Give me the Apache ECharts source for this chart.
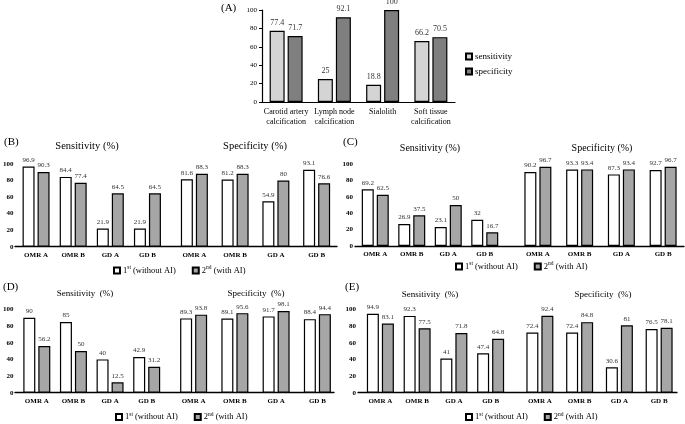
<!DOCTYPE html>
<html>
<head>
<meta charset="utf-8">
<script src="https://cdn.jsdelivr.net/npm/echarts@6/dist/echarts.min.js"></script>
<style>html,body{margin:0;padding:0;background:#fff}#c{width:685px;height:424px}</style>
</head>
<body>
<div id="c"></div>
<script>
// ---------- DATA ----------
const catsA = ['Carotid artery\ncalcification', 'Lymph node\ncalcification', 'Sialolith', 'Soft tissue\ncalcification'];
const sensA = [77.4, 25, 18.8, 66.2];
const specA = [71.7, 92.1, 100, 70.5];

const readers = ['OMR A', 'OMR B', 'GD A', 'GD B'];
const seriesNames = ['1st (without AI)', '2nd (with AI)'];
const yTicks = [0, 20, 40, 60, 80, 100];

const sens1B = [96.9, 84.4, 21.9, 21.9];
const sens2B = [90.3, 77.4, 64.5, 64.5];
const spec1B = [81.6, 81.2, 54.9, 93.1];
const spec2B = [88.3, 88.3, 80, 76.6];

const sens1C = [69.2, 26.9, 23.1, 32];
const sens2C = [62.5, 37.5, 50, 16.7];
const spec1C = [90.2, 93.3, 87.3, 92.7];
const spec2C = [96.7, 93.4, 93.4, 96.7];

const sens1D = [90, 85, 40, 42.9];
const sens2D = [56.2, 50, 12.5, 31.2];
const spec1D = [89.3, 89.1, 91.7, 88.4];
const spec2D = [93.8, 95.6, 98.1, 94.4];

const sens1E = [94.9, 92.3, 41, 47.4];
const sens2E = [83.1, 77.5, 71.8, 64.8];
const spec1E = [72.4, 72.4, 30.6, 76.5];
const spec2E = [92.4, 84.8, 81, 78.1];

// ---------- STYLE / LAYOUT ----------
const SERIF = "'Liberation Serif', 'Times New Roman', serif";
const option = { animation: false, grid: [], xAxis: [], yAxis: [], series: [], title: [], legend: [] };

function addGrid(l, t, w, h) {
  option.grid.push({ left: l, top: t, width: w, height: h });
  return option.grid.length - 1;
}

// Panel A
(function () {
  const g = addGrid(262, 10, 193, 92);
  option.xAxis.push({
    gridIndex: g, type: 'category', data: catsA,
    axisLine: { lineStyle: { color: '#000', width: 1.2 } },
    axisTick: { show: false },
    axisLabel: { interval: 0, fontSize: 8, lineHeight: 10, margin: 5, color: '#000', fontFamily: SERIF }
  });
  option.yAxis.push({
    gridIndex: g, type: 'value', min: 0, max: 100, interval: 20,
    axisLine: { show: true, lineStyle: { color: '#000', width: 1.2 } },
    axisTick: { show: true, length: 3, lineStyle: { color: '#000' } },
    splitLine: { show: false },
    axisLabel: { fontSize: 7, margin: 5, color: '#000', fontFamily: SERIF }
  });
  const xi = option.xAxis.length - 1, yi = option.yAxis.length - 1;
  const lbl = { show: true, position: 'top', distance: 4, fontSize: 8, color: '#333', fontFamily: SERIF };
  option.series.push({
    name: 'sensitivity', type: 'bar', xAxisIndex: xi, yAxisIndex: yi, data: sensA,
    barWidth: 15, barGap: '20%',
    itemStyle: { color: '#d4d4d4', borderColor: '#000', borderWidth: 1.2 }, label: lbl
  });
  option.series.push({
    name: 'specificity', type: 'bar', xAxisIndex: xi, yAxisIndex: yi, data: specA,
    barWidth: 15, barGap: '20%',
    itemStyle: { color: '#7f7f7f', borderColor: '#000', borderWidth: 1.2 }, label: lbl
  });
  option.title.push({ text: '(A)', left: 221, top: 3, padding: 0, textStyle: { fontSize: 11, fontWeight: 'normal', color: '#000', fontFamily: SERIF } });
  option.legend.push({
    data: ['sensitivity', 'specificity'], orient: 'vertical', left: 465, top: 52, padding: 0,
    itemWidth: 6, itemHeight: 6, itemGap: 6, icon: 'rect',
    textStyle: { fontSize: 9, color: '#000', fontFamily: SERIF, padding: [0, 0, 0, -2] }
  });
})();

function panel(p) {
  // frame axis line
  const gf = addGrid(p.frame[0], p.top, p.frame[1], p.h);
  option.xAxis.push({
    gridIndex: gf, type: 'category', data: [''],
    axisLine: { lineStyle: { color: '#000', width: 1.3 } },
    axisTick: { show: false }, axisLabel: { show: false }
  });
  option.yAxis.push({ gridIndex: gf, type: 'value', min: 0, max: 100, show: false });

  const groups = [
    { box: p.left, d1: p.s1, d2: p.s2, showY: true },
    { box: p.right, d1: p.p1, d2: p.p2, showY: false }
  ];
  groups.forEach(gr => {
    const g = addGrid(gr.box[0], p.top, gr.box[1], p.h);
    option.xAxis.push({
      gridIndex: g, type: 'category', data: readers,
      axisLine: { show: false }, axisTick: { show: false },
      axisLabel: { interval: 0, fontSize: 7, fontWeight: 'bold', margin: 5, color: '#000', fontFamily: SERIF }
    });
    option.yAxis.push({
      gridIndex: g, type: 'value', min: yTicks[0], max: yTicks[yTicks.length - 1], interval: 20,
      show: gr.showY,
      axisLine: { show: false }, axisTick: { show: false }, splitLine: { show: false },
      axisLabel: { fontSize: 7, fontWeight: 'bold', margin: p.ym, color: '#000', fontFamily: SERIF }
    });
    const xi = option.xAxis.length - 1, yi = option.yAxis.length - 1;
    const lbl = { show: true, position: 'top', distance: 3, fontSize: 7, color: '#333', fontFamily: SERIF };
    option.series.push({
      name: seriesNames[0], type: 'bar', xAxisIndex: xi, yAxisIndex: yi, data: gr.d1,
      barWidth: 12, barGap: '25%',
      itemStyle: { color: '#ffffff', borderColor: '#000', borderWidth: 1.2 }, label: lbl
    });
    option.series.push({
      name: seriesNames[1], type: 'bar', xAxisIndex: xi, yAxisIndex: yi, data: gr.d2,
      barWidth: 12, barGap: '25%',
      itemStyle: { color: '#a6a6a6', borderColor: '#000', borderWidth: 1.2 }, label: lbl
    });
  });

  const ts = { fontSize: p.tfs, fontWeight: 'normal', color: '#000', fontFamily: SERIF };
  option.title.push({ text: p.tag, left: p.tagPos[0], top: p.tagPos[1], padding: 0, textStyle: { fontSize: 11, fontWeight: 'normal', color: '#000', fontFamily: SERIF } });
  option.title.push({ text: p.sensT, left: p.tS[0], top: p.tS[1], padding: 0, textAlign: 'center', textStyle: ts });
  option.title.push({ text: p.specT, left: p.tP[0], top: p.tP[1], padding: 0, textAlign: 'center', textStyle: ts });

  option.legend.push({
    data: seriesNames, left: p.leg[0], top: p.leg[1], padding: 0, itemWidth: 6, itemHeight: 6, itemGap: 16, icon: 'rect',
    formatter: function (name) {
      const m = name.match(/^(\d+)(st|nd|rd|th)(.*)$/);
      return m ? '{n|' + m[1] + '}{s|' + m[2] + '}{n|' + m[3] + '}' : name;
    },
    textStyle: {
      fontSize: 8.5, color: '#000', fontFamily: SERIF, padding: [0, 0, 0, -2],
      rich: {
        n: { fontSize: 8.5, fontFamily: SERIF, color: '#000', lineHeight: 11 },
        s: { fontSize: 5.5, fontFamily: SERIF, color: '#000', verticalAlign: 'top', lineHeight: 11, padding: [0, 0, 4, 0] }
      }
    }
  });
}

panel({
  tag: '(B)', tagPos: [4, 137], sensT: 'Sensitivity (%)', specT: 'Specificity (%)', tfs: 10.5,
  tS: [87, 141], tP: [255, 141],
  top: 164, h: 82.7, frame: [15, 322], left: [16, 150], right: [174, 163], ym: 4,
  s1: sens1B, s2: sens2B, p1: spec1B, p2: spec2B, leg: [113, 265]
});
panel({
  tag: '(C)', tagPos: [343, 137], sensT: 'Sensitivity (%)', specT: 'Specificity (%)', tfs: 10,
  tS: [430, 143], tP: [602, 143],
  top: 164, h: 82, frame: [355, 329], left: [357, 146], right: [517, 167], ym: 4,
  s1: sens1C, s2: sens2C, p1: spec1C, p2: spec2C, leg: [455, 261]
});
panel({
  tag: '(D)', tagPos: [3, 282], sensT: 'Sensitivity  (%)', specT: 'Specificity  (%)', tfs: 9,
  tS: [85, 289], tP: [256, 289],
  top: 309.5, h: 83.2, frame: [15, 319], left: [17, 148], right: [173, 165], ym: 5,
  s1: sens1D, s2: sens2D, p1: spec1D, p2: spec2D, leg: [115, 411.5]
});
panel({
  tag: '(E)', tagPos: [345, 282], sensT: 'Sensitivity  (%)', specT: 'Specificity  (%)', tfs: 9,
  tS: [430, 290], tP: [603, 290],
  top: 309.5, h: 83.2, frame: [358, 319], left: [362, 147], right: [520, 159], ym: 6,
  s1: sens1E, s2: sens2E, p1: spec1E, p2: spec2E, leg: [465, 411.5]
});

const chart = echarts.init(document.getElementById('c'), null, { renderer: 'canvas' });
chart.setOption(option);
</script>
</body>
</html>
